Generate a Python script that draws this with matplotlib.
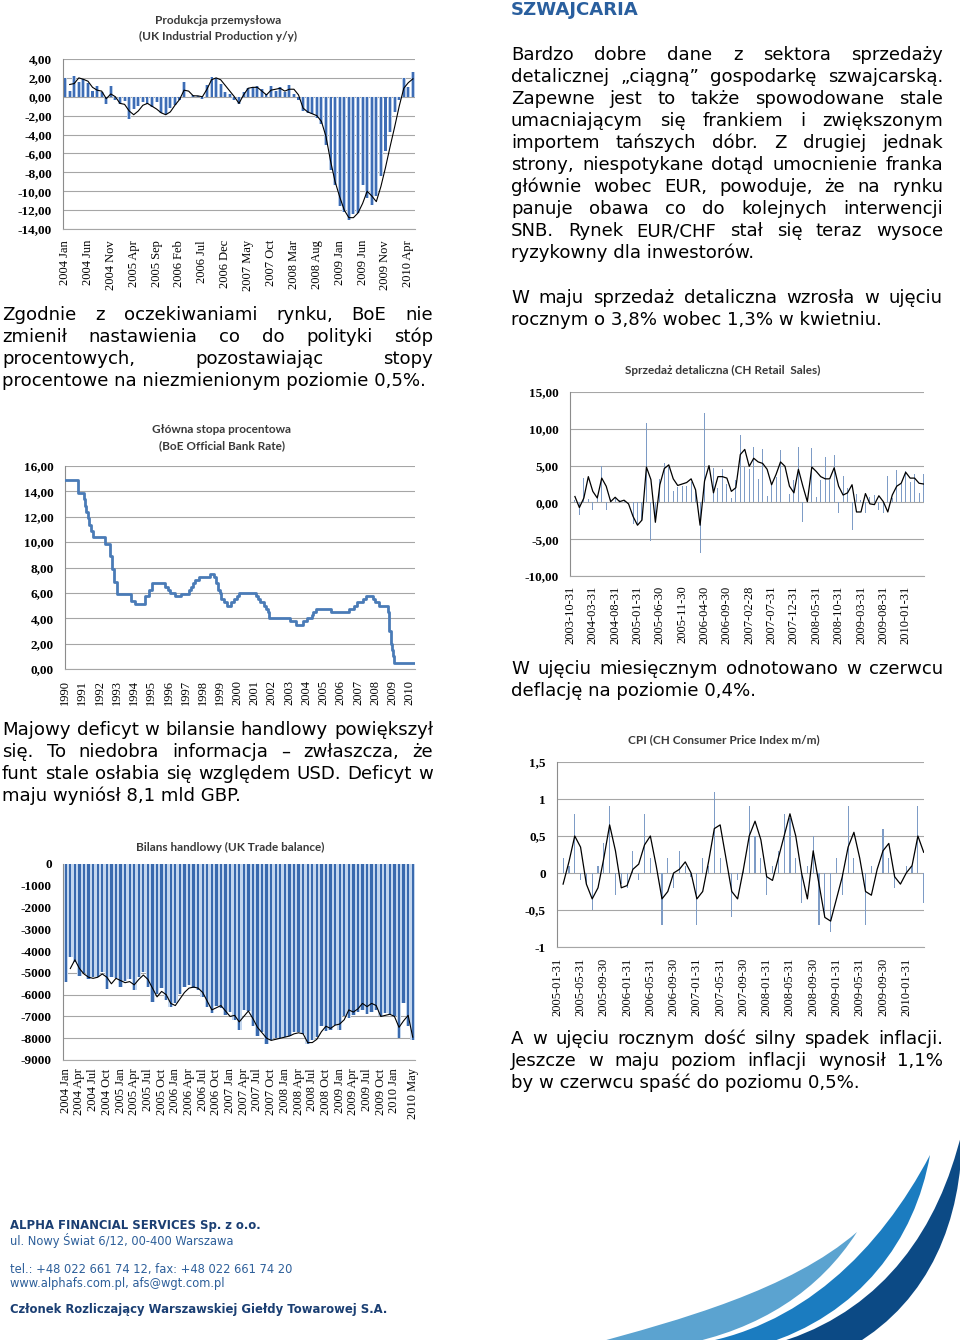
import matplotlib
matplotlib.use('Agg')
import matplotlib.pyplot as plt
import numpy as np
from matplotlib.path import Path
from matplotlib.patches import PathPatch

# ---------------- data ----------------
# UK industrial production y/y, Jan 2004 - May 2010
ip_values = [2.0, 0.6, 2.2, 1.6, 1.9, 1.5, 0.6, 1.1, 0.5, -0.8, 1.1, -0.3, -0.8, -0.4, -2.3,
             -1.3, -1.0, -0.5, -0.8, -1.1, -0.5, -1.7, -1.8, -1.2, -0.9, -0.3, 1.6, 0.0, 0.2,
             0.1, -0.2, 1.2, 2.1, 2.0, 1.4, 0.5, 0.3, -0.3, -0.8, 0.5, 0.9, 1.0, 1.1, 0.8, 0.3,
             1.1, 0.6, 1.0, 0.5, 1.2, 0.3, -0.3, -1.5, -1.7, -1.8, -2.2, -2.9, -5.1, -7.8, -9.3,
             -11.6, -12.2, -13.0, -12.4, -12.3, -9.3, -10.7, -11.5, -10.5, -8.4, -5.7, -3.7,
             -1.6, -0.3, 2.0, 1.0, 2.6]
ip_trend = [np.nan, 1.3, 1.4, 2.0, 1.85, 1.65, 1.0, 0.7, 0.6, -0.2, 0.3, 0.0, -0.7, -0.8, -1.5,
            -1.9, -1.5, -0.9, -0.7, -1.0, -1.3, -1.7, -1.9, -1.6, -0.9, -0.3, 0.7, 0.6, 0.1,
            0.1, 0.0, 0.8, 1.8, 2.0, 1.8, 1.2, 0.6, 0.0, -0.7, 0.2, 0.9, 1.0, 1.0, 0.6, 0.2,
            0.7, 0.8, 0.9, 0.6, 0.8, 0.8, 0.2, -1.2, -1.6, -1.8, -2.0, -2.6, -4.2, -6.8, -9.0,
            -10.6, -12.0, -12.8, -12.8, -12.3, -11.3, -10.0, -10.5, -11.1, -9.5, -7.5, -5.3,
            -3.2, -1.0, 0.9, 1.5, 1.9]
ip_labels = ['2004 Jan', '2004 Jun', '2004 Nov', '2005 Apr', '2005 Sep', '2006 Feb',
             '2006 Jul', '2006 Dec', '2007 May', '2007 Oct', '2008 Mar', '2008 Aug',
             '2009 Jan', '2009 Jun', '2009 Nov', '2010 Apr']

# BoE official bank rate (change dates as decimal years)
boe_dates = [1990.0, 1990.77, 1991.1, 1991.15, 1991.23, 1991.32, 1991.38, 1991.5, 1991.62,
             1992.3, 1992.62, 1992.72, 1992.82, 1993.0, 1993.8, 1994.05, 1994.62, 1994.85,
             1995.05, 1995.8, 1995.95, 1996.1, 1996.4, 1996.75, 1997.2, 1997.33, 1997.45,
             1997.55, 1997.75, 1998.4, 1998.65, 1998.78, 1998.88, 1998.97, 1999.05, 1999.2,
             1999.38, 1999.62, 1999.8, 1999.98, 2000.08, 2001.05, 2001.2, 2001.3, 2001.55,
             2001.65, 2001.75, 2001.83, 2003.05, 2003.4, 2003.8, 2004.05, 2004.3, 2004.4,
             2004.55, 2005.45, 2006.5, 2006.75, 2006.95, 2007.3, 2007.45, 2007.85, 2008.0,
             2008.2, 2008.72, 2008.82, 2008.9, 2008.98, 2009.04, 2009.1, 2010.5]
boe_rates = [14.88, 13.88, 13.38, 12.88, 12.38, 11.88, 11.38, 10.88, 10.38, 9.88, 8.88, 7.88,
             6.88, 5.88, 5.38, 5.13, 5.75, 6.25, 6.75, 6.5, 6.25, 6.0, 5.75, 5.94, 6.25, 6.5,
             6.75, 7.0, 7.25, 7.5, 7.25, 6.75, 6.25, 6.0, 5.5, 5.25, 5.0, 5.25, 5.5, 5.75,
             6.0, 5.75, 5.5, 5.25, 5.0, 4.75, 4.5, 4.0, 3.75, 3.5, 3.75, 4.0, 4.25, 4.5, 4.75,
             4.5, 4.75, 5.0, 5.25, 5.5, 5.75, 5.5, 5.25, 5.0, 4.5, 3.0, 2.0, 1.5, 1.0, 0.5, 0.5]
boe_years = list(range(1990, 2011))

# UK trade balance, Jan 2004 - May 2010
tb_values = [-5400, -4250, -4500, -5150, -5000, -5300, -5200, -5200, -4950, -5750,
             -5200, -5250, -5650, -5350, -5300, -5800, -5200, -4950, -5650, -6350,
             -5950, -5700, -6250, -6550, -6400, -5950, -5650, -5550, -5700, -5800,
             -6100, -6550, -6850, -6500, -6600, -6950, -6800, -7150, -7600, -6700,
             -6750, -7450, -7900, -7700, -8250, -8100, -8000, -7980, -7950, -7900,
             -7700, -7700, -7800, -8250, -8100, -7950, -7450, -7650, -7600, -7400,
             -7600, -7000, -7050, -6950, -6780, -6700, -6900, -6800, -6700, -7000,
             -6850, -6900, -7000, -8000, -6400, -7450, -8100]
tb_trend = [np.nan, -4800, -4400, -4800, -5050, -5200, -5250, -5200, -5050, -5200,
            -5500, -5250, -5350, -5450, -5400, -5550, -5300, -5100, -5300, -5700,
            -6100, -5850, -6000, -6400, -6500, -6200, -5900, -5700, -5650, -5700,
            -5900, -6300, -6700, -6600, -6500, -6750, -7000, -6950, -7250, -7000,
            -6750, -7100, -7500, -7750, -8000, -8100, -8050, -8000, -7950, -7900,
            -7800, -7750, -7800, -8200, -8200, -8050, -7700, -7450, -7550, -7400,
            -7350, -7150, -6700, -6800, -6650, -6400, -6550, -6400, -6500, -7000,
            -6950, -6900, -7000, -7500, -7200, -6950, -7950]
tb_labels = ['2004 Jan', '2004 Apr', '2004 Jul', '2004 Oct', '2005 Jan', '2005 Apr',
             '2005 Jul', '2005 Oct', '2006 Jan', '2006 Apr', '2006 Jul', '2006 Oct',
             '2007 Jan', '2007 Apr', '2007 Jul', '2007 Oct', '2008 Jan', '2008 Apr',
             '2008 Jul', '2008 Oct', '2009 Jan', '2009 Apr', '2009 Jul', '2009 Oct',
             '2010 Jan', '2010 May']
tb_label_pos = [0, 3, 6, 9, 12, 15, 18, 21, 24, 27, 30, 33, 36, 39, 42, 45, 48, 51, 54,
                57, 60, 63, 66, 69, 72, 76]

# CH retail sales, Oct 2003 - May 2010
rs_values = [1.9, 0.3, -1.7, 3.3, 0.5, -1.0, 1.0, 5.0, -1.0, 0.5, 0.6, 0.3, 0.3, 0.1, -3.0,
             -3.1, -2.5, 10.8, -5.2, -2.7, 3.2, 5.4, 4.8, 1.6, 2.1, 2.2, 2.2, 2.8, 1.6, -6.9,
             12.1, -2.3, 4.7, 2.0, 4.5, 2.5, 0.6, 3.0, 9.2, 4.8, 4.5, 7.5, 3.2, 7.2, 0.9,
             2.3, 3.5, 7.1, 2.2, 1.2, 3.0, 7.5, -2.6, 0.5, 7.4, 0.7, 3.0, 6.2, 3.0, 6.4,
             -1.5, 3.6, 2.0, -3.8, 1.1, 0.3, -1.4, 0.8, 1.0, -1.0, -1.5, 3.6, 0.6, 4.4, 2.5,
             4.3, 2.8, 3.9, 1.3, 3.8]
rs_trend = [np.nan, 0.8, -0.7, 0.6, 3.5, 1.5, 0.6, 3.3, 2.2, 0.1, 0.7, 0.1, 0.3, -0.2, -1.9,
            -3.1, -2.4, 4.8, 3.1, -2.7, 2.4, 4.6, 5.1, 3.2, 2.3, 2.5, 2.7, 3.2, 1.7, -3.1,
            2.9, 5.0, 1.3, 3.5, 3.5, 3.3, 1.5, 2.0, 6.5, 7.2, 4.9, 6.0, 5.5, 5.3, 4.5, 2.4,
            3.8, 5.5, 4.9, 2.2, 1.3, 4.5, 2.2, 0.1, 4.8, 4.2, 3.5, 3.2, 3.2, 4.7, 2.2, 1.0,
            1.3, 2.4, -1.3, -1.3, 1.2, -0.2, -0.3, 0.9, 0.1, -1.3, 1.0, 2.2, 2.6, 4.1, 3.3,
            3.3, 2.6, 2.5]
rs_labels = ['2003-10-31', '2004-03-31', '2004-08-31', '2005-01-31', '2005-06-30',
             '2005-11-30', '2006-04-30', '2006-09-30', '2007-02-28', '2007-07-31',
             '2007-12-31', '2008-05-31', '2008-10-31', '2009-03-31', '2009-08-31',
             '2010-01-31']

# CH CPI m/m, Jan 2005 - Apr 2010
cpi_values = [-0.5, 0.2, 0.1, 0.8, -0.1, -0.15, -0.5, 0.1, 0.4, 0.9, -0.3, -0.15, -0.2, 0.3,
              -0.1, 0.8, 0.2, 0.0, -0.7, 0.2, -0.2, 0.3, 0.1, -0.05, -0.7, 0.2, 0.1, 1.1,
              0.2, 0.0, -0.6, -0.1, 0.05, 0.9, 0.5, 0.2, -0.3, 0.1, 0.3, 0.8, 0.75, 0.2,
              -0.4, 0.1, 0.5, -0.7, -0.6, -0.8, 0.2, -0.3, 0.9, 0.2, 0.0, -0.7, 0.1, 0.0,
              0.6, 0.2, -0.2, 0.0, 0.1, 0.1, 0.9, -0.4]
cpi_trend = [np.nan, -0.15, 0.15, 0.5, 0.35, -0.15, -0.35, -0.2, 0.2, 0.65, 0.3, -0.2,
             -0.17, 0.05, 0.12, 0.38, 0.5, 0.1, -0.35, -0.25, 0.0, 0.05, 0.15, 0.0, -0.35,
             -0.25, 0.15, 0.6, 0.65, 0.2, -0.25, -0.35, 0.05, 0.5, 0.7, 0.45, -0.05, -0.1,
             0.2, 0.5, 0.8, 0.5, 0.0, -0.35, 0.3, -0.15, -0.6, -0.65, -0.35, -0.05, 0.35,
             0.55, 0.2, -0.25, -0.3, 0.05, 0.3, 0.4, -0.05, -0.15, 0.0, 0.1, 0.5, 0.28]
cpi_labels = ['2005-01-31', '2005-05-31', '2005-09-30', '2006-01-31', '2006-05-31',
              '2006-09-30', '2007-01-31', '2007-05-31', '2007-09-30', '2008-01-31',
              '2008-05-31', '2008-09-30', '2009-01-31', '2009-05-31', '2009-09-30',
              '2010-01-31']

# ---------------- texts ----------------
txt_boe = ['Zgodnie z oczekiwaniami rynku, BoE nie',
           'zmienił nastawienia co do polityki stóp',
           'procentowych, pozostawiając stopy',
           'procentowe na niezmienionym poziomie 0,5%.']
txt_trade = ['Majowy deficyt w bilansie handlowy powiększył',
             'się. To niedobra informacja – zwłaszcza, że',
             'funt stale osłabia się względem USD. Deficyt w',
             'maju wyniósł 8,1 mld GBP.']
txt_ch = ['Bardzo dobre dane z sektora sprzedaży',
          'detalicznej „ciągną” gospodarkę szwajcarską.',
          'Zapewne jest to także spowodowane stale',
          'umacniającym się frankiem i zwiększonym',
          'importem tańszych dóbr. Z drugiej jednak',
          'strony, niespotykane dotąd umocnienie franka',
          'głównie wobec EUR, powoduje, że na rynku',
          'panuje obawa co do kolejnych interwencji',
          'SNB. Rynek EUR/CHF stał się teraz wysoce',
          'ryzykowny dla inwestorów.']
txt_retail = ['W maju sprzedaż detaliczna wzrosła w ujęciu',
              'rocznym o 3,8% wobec 1,3% w kwietniu.']
txt_cpi = ['W ujęciu miesięcznym odnotowano w czerwcu',
           'deflację na poziomie 0,4%.']
txt_cpi2 = ['A w ujęciu rocznym dość silny spadek inflacji.',
            'Jeszcze w maju poziom inflacji wynosił 1,1%',
            'by w czerwcu spaść do poziomu 0,5%.']

# ---------------- layout helpers ----------------
W, H = 960, 1340
fig = plt.figure(figsize=(9.6, 13.4), dpi=100)
fig.patch.set_facecolor('white')

TXT = 'DejaVu Sans'
SERIF = 'Liberation Serif'
TITLE = 'Lato'


def fx(x):
    return x / W


def fy(y):
    return 1 - y / H


def box(l, t, r, b):
    return [fx(l), fy(b), (r - l) / W, (b - t) / H]


def para(lines, x0, x1, y0, step=22, size=13.1):
    # justified paragraph, last line left aligned
    rend = fig.canvas.get_renderer()
    for k, line in enumerate(lines):
        yb = fy(y0 + k * step + 6)
        words = line.split(' ')
        if k == len(lines) - 1 or len(words) < 2:
            fig.text(fx(x0), yb, line, fontsize=size, family=TXT, va='baseline', ha='left')
            continue
        objs = [fig.text(0, yb, w, fontsize=size, family=TXT, va='baseline', ha='left')
                for w in words]
        widths = [o.get_window_extent(rend).width for o in objs]
        gap = (x1 - x0 - sum(widths)) / (len(words) - 1)
        x = x0
        for o, w in zip(objs, widths):
            o.set_x(fx(x))
            x += w + gap


def style(ax, yticks, ylabels, xticks, xlabels, ylim, xlim, xpad=8):
    ax.set_xlim(*xlim)
    ax.set_ylim(*ylim)
    ax.set_yticks(yticks)
    ax.set_yticklabels(ylabels, fontfamily=SERIF, fontweight='bold', fontsize=9.5)
    ax.set_xticks(xticks)
    ax.set_xticklabels(xlabels, rotation=90, fontfamily=SERIF, fontsize=9)
    ax.tick_params(axis='y', length=0, pad=8)
    ax.tick_params(axis='x', length=0, pad=xpad)
    ax.grid(axis='y', color='#A6A6A6', lw=0.8)
    ax.set_axisbelow(True)
    for s in ['top', 'right']:
        ax.spines[s].set_visible(False)
    ax.spines['left'].set_color('#8C8C8C')
    ax.spines['bottom'].set_color('#A6A6A6')


def title(x, y, s):
    fig.text(fx(x), fy(y), s, ha='center', va='center', fontsize=8.5,
             fontweight='bold', color='#3A3A3A', family=TITLE)


# ---------------- chart 1: industrial production ----------------
title(218, 20, 'Produkcja przemysłowa')
title(218, 36, '(UK Industrial Production y/y)')
ax1 = fig.add_axes(box(63, 59, 415, 229))
x1 = np.arange(len(ip_values))
ax1.bar(x1, ip_values, width=0.85, color='#B9CDE9', zorder=2)
ax1.bar(x1, ip_values, width=0.45, color='#3E6DB5', zorder=3)
ax1.plot(x1, ip_trend, color='black', lw=0.8, zorder=4)
ytk = np.arange(-14, 5, 2)
style(ax1, ytk, ['%d,00' % v for v in ytk], x1[::5], ip_labels, (-14, 4), (-0.45, 76.45), 8)

# ---------------- chart 2: BoE rate ----------------
title(222, 430, 'Główna stopa procentowa')
title(222, 446, '(BoE Official Bank Rate)')
ax2 = fig.add_axes(box(65, 466, 415, 669))
ax2.step(boe_dates, boe_rates, where='post', color='#4A7BB7', lw=2, zorder=3)
ytk = np.arange(0, 17, 2)
style(ax2, ytk, ['%d,00' % v for v in ytk], boe_years, [str(v) for v in boe_years],
      (0, 16), (1990, 2010.3), 8)

# ---------------- chart 3: trade balance ----------------
title(230, 847, 'Bilans handlowy (UK Trade balance)')
ax3 = fig.add_axes(box(63, 864, 415, 1060))
x3 = np.arange(len(tb_values))
ax3.bar(x3, tb_values, width=1.0, color='#C3D6EE', zorder=2)
ax3.bar(x3, tb_values, width=0.5, color='#3A6AAE', zorder=3)
ax3.plot(x3, tb_trend, color='black', lw=0.8, zorder=4)
ytk = np.arange(-9000, 1, 1000)
style(ax3, ytk, [str(v) for v in ytk], tb_label_pos, tb_labels, (-9000, 0), (-0.6, 76.5), 6)

# ---------------- chart 4: CH retail sales ----------------
title(723, 370, 'Sprzedaż detaliczna (CH Retail  Sales)')
ax4 = fig.add_axes(box(570, 392, 924, 576))
x4 = np.arange(len(rs_values))
ax4.bar(x4, rs_values, width=0.22, color='#7E9CC6', zorder=2)
ax4.plot(x4, rs_trend, color='black', lw=0.9, zorder=4)
ytk = np.arange(-10, 16, 5)
style(ax4, ytk, ['%d,00' % v for v in ytk], x4[::5], rs_labels, (-10, 15), (-0.1, 79.1), 7)

# ---------------- chart 5: CH CPI ----------------
title(724, 740, 'CPI (CH Consumer Price Index m/m)')
ax5 = fig.add_axes(box(557, 762, 924, 947))
x5 = np.arange(len(cpi_values))
ax5.bar(x5, cpi_values, width=0.2, color='#7E9CC6', zorder=2)
ax5.plot(x5, cpi_trend, color='black', lw=0.9, zorder=4)
ytk = [-1, -0.5, 0, 0.5, 1, 1.5]
style(ax5, ytk, ['-1', '-0,5', '0', '0,5', '1', '1,5'], x5[::4], cpi_labels,
      (-1, 1.5), (-0.05, 63.05), 8)

# ---------------- texts ----------------
fig.text(fx(511), fy(10), 'SZWAJCARIA', fontsize=13.1, fontweight='bold', color='#2A5F9E',
         family=TXT, va='center', ha='left')
para(txt_ch, 511, 943, 54)
para(txt_retail, 511, 943, 297)
para(txt_cpi, 511, 943, 668)
para(txt_cpi2, 511, 943, 1038)
para(txt_boe, 2, 433, 314)
para(txt_trade, 2, 433, 729)

# ---------------- footer ----------------
dark = '#1B3F73'
mid = '#2D5F9A'
fig.text(fx(10), fy(1226), 'ALPHA FINANCIAL SERVICES Sp. z o.o.', fontsize=8.4,
         fontweight='bold', color=dark, family=TXT, va='center')
fig.text(fx(10), fy(1240), 'ul. Nowy Świat 6/12, 00-400 Warszawa', fontsize=8.3,
         color=mid, family=TXT, va='center')
fig.text(fx(10), fy(1269), 'tel.: +48 022 661 74 12, fax: +48 022 661 74 20', fontsize=8.3,
         color=mid, family=TXT, va='center')
fig.text(fx(10), fy(1283), 'www.alphafs.com.pl, afs@wgt.com.pl', fontsize=8.3,
         color=mid, family=TXT, va='center')
fig.text(fx(10), fy(1310), 'Członek Rozliczający Warszawskiej Giełdy Towarowej S.A.',
         fontsize=8.4, fontweight='bold', color=dark, family=TXT, va='center')


# decorative swoosh (three tapering bands)
def band(pts, codes, color):
    verts = [(fx(x), fy(y)) for x, y in pts]
    fig.patches.append(PathPatch(Path(verts, codes), facecolor=color, edgecolor='none',
                                 transform=fig.transFigure, figure=fig))


C4, L, M, CL = Path.CURVE4, Path.LINETO, Path.MOVETO, Path.CLOSEPOLY
CODES = [M, C4, C4, C4, C4, C4, C4, CL]
band([(588, 1345), (680, 1320), (790, 1290), (857, 1232),
      (820, 1290), (760, 1330), (680, 1345), (0, 0)], CODES, '#5BA3D0')
band([(688, 1345), (800, 1330), (880, 1250), (930, 1155),
      (915, 1240), (860, 1315), (762, 1345), (0, 0)], CODES, '#1B7CC0')
band([(770, 1345), (870, 1318), (930, 1245), (957, 1150), (962, 1133),
      (962, 1220), (930, 1300), (854, 1345), (0, 0)],
     [M, C4, C4, C4, L, C4, C4, C4, CL], '#0C4A85')

fig.savefig('out.png', dpi=100, facecolor='white')
